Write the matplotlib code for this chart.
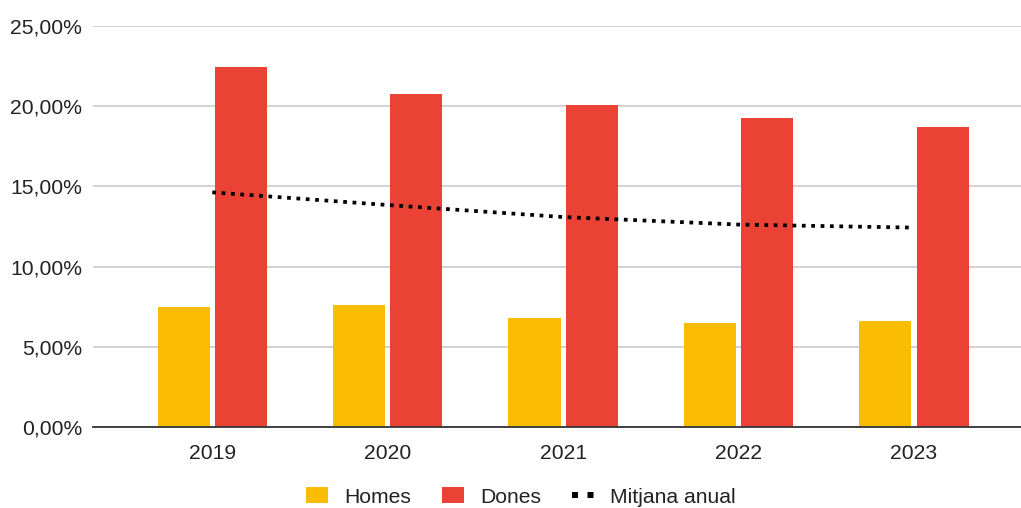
import matplotlib
matplotlib.use("Agg")
import matplotlib.pyplot as plt
from matplotlib.patches import Patch
from matplotlib.lines import Line2D
from matplotlib.ticker import FuncFormatter
import numpy as np

plt.rcParams['font.family'] = ['Liberation Sans', 'DejaVu Sans']

years = ["2019", "2020", "2021", "2022", "2023"]
homes = [7.48, 7.60, 6.80, 6.48, 6.60]
dones = [22.44, 20.76, 20.07, 19.26, 18.70]
mitjana = [14.63, 13.84, 13.09, 12.62, 12.43]

c_homes = "#FBBC04"
c_dones = "#EA4335"
fs = 15.2

fig = plt.figure(figsize=(10.21, 5.08), dpi=100)
ax = fig.add_axes([93/1021, 1 - 427/508, 1 - 93/1021, (427 - 26)/508])

x = np.arange(len(years))
w = 0.297
off = 0.163
ax.bar(x - off, homes, width=w, color=c_homes, zorder=3)
ax.bar(x + off, dones, width=w, color=c_dones, zorder=3)
ax.plot(x, mitjana, color="black", lw=2.7, linestyle=(0, (1, 1.5)),
        dash_capstyle='butt', zorder=4)

ax.set_xlim(-0.68, 4.61)
ax.set_ylim(0, 25)
ax.set_yticks([0, 5, 10, 15, 20, 25])
ax.yaxis.set_major_formatter(FuncFormatter(lambda v, p: f"{v:.2f}%".replace(".", ",")))
ax.set_xticks(x)
ax.set_xticklabels(years)
ax.tick_params(axis='both', length=0, labelsize=fs, colors="#222222")
ax.tick_params(axis='x', pad=12)
ax.tick_params(axis='y', pad=8)
ax.grid(axis='y', color="#cccccc", lw=1.2, zorder=0)
for s in ["top", "right", "left"]:
    ax.spines[s].set_visible(False)
ax.spines["bottom"].set_color("#333333")
ax.spines["bottom"].set_linewidth(1.3)
ax.spines["bottom"].set_zorder(5)

handles = [
    Patch(facecolor=c_homes, edgecolor='none'),
    Patch(facecolor=c_dones, edgecolor='none'),
    Line2D([0], [0], color="black", lw=4.3, linestyle=(0, (1, 1.6)), dash_capstyle='butt'),
]
fig.legend(handles, ["Homes", "Dones", "Mitjana anual"], loc='center',
           bbox_to_anchor=(0.51, 1 - 497/508), ncol=3, frameon=False,
           fontsize=fs, handlelength=1.05, handleheight=0.8, handletextpad=0.76,
           columnspacing=1.45, labelcolor="#222222")

fig.savefig("out.png", dpi=100)
